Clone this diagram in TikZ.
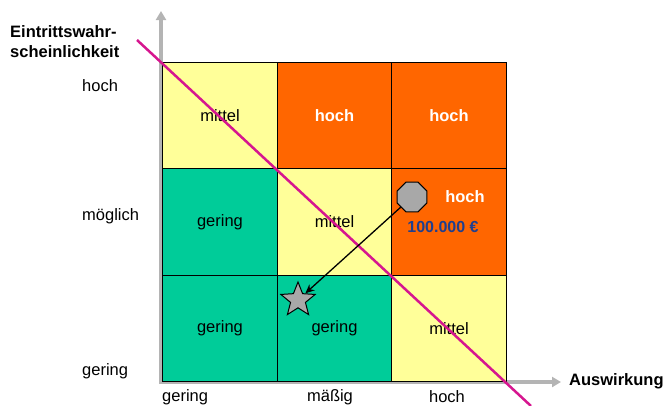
\documentclass[tikz,border=0pt]{standalone}
\usepackage{fontspec}
\setmainfont{Liberation Sans}
\usetikzlibrary{arrows.meta, positioning, shapes.geometric}

\definecolor{cyellow}{HTML}{FFFF99}
\definecolor{corange}{HTML}{FF6600}
\definecolor{cgreen}{HTML}{00CC99}
\definecolor{cmagenta}{HTML}{D6168F}
\definecolor{cblue}{HTML}{1F3F8F}
\definecolor{caxis}{HTML}{B4B4B4}
\definecolor{cmarker}{HTML}{A8A8A8}

\tikzset{
  cell/.style={draw=black, line width=0.8pt, minimum width=114.3pt, minimum height=106.7pt, inner sep=0pt, font=\fontsize{16.5}{19}\selectfont},
  lowcell/.style={cell, fill=cgreen},
  midcell/.style={cell, fill=cyellow},
  highcell/.style={cell, fill=corange, text=white, font=\fontsize{16.5}{19}\selectfont\bfseries},
  lbl/.style={inner sep=0pt, font=\fontsize{16.5}{19}\selectfont},
  marker/.style={draw=black, fill=cmarker, line width=1pt, inner sep=0pt}
}

\begin{document}
\begin{tikzpicture}[x=1pt, y=-1pt]
    \useasboundingbox (0,0) rectangle (664,405);

    % axes
    \draw[caxis, line width=3.5pt, -{Triangle[length=9pt, width=10pt]}] (161,384) -- (161,11);
    \draw[caxis, line width=3.5pt, -{Triangle[length=9pt, width=10pt]}] (159,382) -- (561,382);

    % matrix cells
    \node[midcell]  (c11) at (220,115.5) {mittel};
    \node[highcell] (c12) at (334.5,115.5) {hoch};
    \node[highcell] (c13) at (449,115.5) {hoch};
    \node[lowcell]  (c21) at (220,222) {gering};
    \node[midcell]  (c22) at (334.5,222) {mittel};
    \node[highcell] (c23) at (449,222) {};
    \node[lowcell]  (c31) at (220,328.5) {gering};
    \node[lowcell]  (c32) at (334.5,328.5) {gering};
    \node[midcell]  (c33) at (449,328.5) {mittel};

    \node[lbl, text=white, font=\fontsize{16.5}{19}\selectfont\bfseries] (risk) at (465,197) {hoch};
    \node[lbl, text=cblue, font=\fontsize{16}{19}\selectfont\bfseries] (amount) at (443,227) {100.000 €};

    % axis labels
    \node[lbl, anchor=west] (yhigh) at (82,86) {hoch};
    \node[lbl, anchor=west] (ymid) at (82,216) {möglich};
    \node[lbl, anchor=west] (ylow) at (82,371) {gering};
    \node[lbl, anchor=west] (xlow) at (162,397) {gering};
    \node[lbl] (xmid) at (330,397) {mäßig};
    \node[lbl] (xhigh) at (447,397) {hoch};
    \node[lbl, anchor=west, font=\fontsize{16.5}{19}\selectfont\bfseries] (xtitle) at (569,381) {Auswirkung};
    \node[lbl, anchor=west, align=left, font=\fontsize{16.5}{20}\selectfont\bfseries] (ytitle) at (10,42) {Eintrittswahr-\\scheinlichkeit};

    % diagonal
    \coordinate (m1) at (137,40);
    \coordinate (m2) at (531,406);
    \draw[cmagenta, line width=2.5pt] (m1) -- (m2);

    % markers
    \node[marker, regular polygon, regular polygon sides=8, minimum size=32pt] (oct) at (412,197) {};
    \node[marker, star, star points=5, star point ratio=2.3, minimum size=36pt] (st) at (298,300) {};
    \draw[line width=1.3pt, -{Stealth[length=9pt, width=8pt]}] (oct) -- (st);
\end{tikzpicture}
\end{document}
